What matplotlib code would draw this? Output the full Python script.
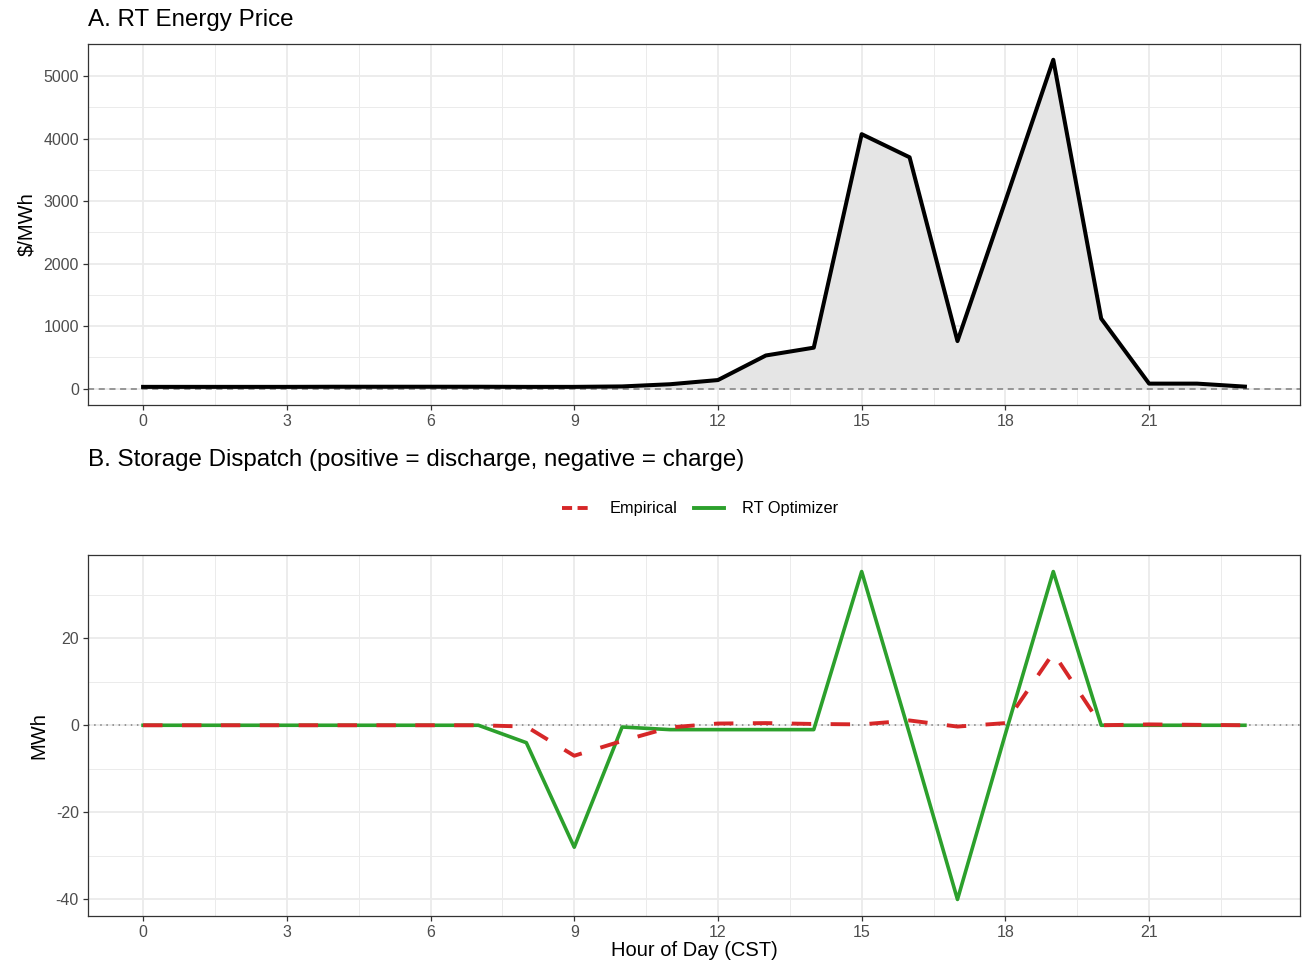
import matplotlib
matplotlib.use("Agg")
import matplotlib.pyplot as plt
from matplotlib.lines import Line2D
import numpy as np

plt.rcParams['font.family'] = ['Liberation Sans', 'DejaVu Sans']
plt.rcParams['axes.unicode_minus'] = False

hours = list(range(24))
price = [28, 28, 28, 28, 30, 30, 30, 30, 28, 28, 35, 70, 137, 530, 655,
         4070, 3700, 760, 3000, 5260, 1120, 80, 80, 32]
empirical = [0, 0, 0, 0, 0, 0, 0, 0, -0.3, -7, -3.6, -0.5, 0.4, 0.5, 0.3,
             0.2, 1.1, -0.3, 0.5, 16.6, 0, 0.2, 0.1, 0]
optimizer = [0, 0, 0, 0, 0, 0, 0, 0, -4, -28, -0.4, -1, -1, -1, -1,
             35.3, -2, -40, -2, 35.3, 0, 0, 0, 0]
x_ticks = [0, 3, 6, 9, 12, 15, 18, 21]
price_ticks = [0, 1000, 2000, 3000, 4000, 5000]
dispatch_ticks = [-40, -20, 0, 20]
series_names = ["Empirical", "RT Optimizer"]
series_colors = ["#d62728", "#2ca02c"]

W, H = 1306, 964
fig = plt.figure(figsize=(W / 100, H / 100), dpi=100)

def frac(l, t, r, b):
    return [l / W, 1 - b / H, (r - l) / W, (b - t) / H]

ax1 = fig.add_axes(frac(88, 44, 1300, 405))
ax2 = fig.add_axes(frac(88, 555, 1300, 916))

grid_c = "#ebebeb"

def style(ax, yticks, yminor, ylim):
    ax.set_xlim(-1.15, 24.15)
    ax.set_ylim(*ylim)
    ax.set_xticks(x_ticks)
    ax.set_xticks([1.5, 4.5, 7.5, 10.5, 13.5, 16.5, 19.5, 22.5], minor=True)
    ax.set_yticks(yticks)
    ax.set_yticks(yminor, minor=True)
    ax.grid(True, which='major', color=grid_c, lw=1.3, zorder=0)
    ax.grid(True, which='minor', color=grid_c, lw=0.7, zorder=0)
    ax.set_axisbelow(True)
    for s in ax.spines.values():
        s.set_color("#333333")
        s.set_linewidth(0.9)
    ax.tick_params(which='major', length=3.5, width=0.9, color="#333333",
                   labelcolor="#4d4d4d", labelsize=11.5, pad=3)
    ax.tick_params(which='minor', length=0)

style(ax1, price_ticks, [500, 1500, 2500, 3500, 4500], (-262, 5512))
style(ax2, dispatch_ticks, [-30, -10, 10, 30], (-43.8, 39.1))

# Panel A
ax1.fill_between(hours, 0, price, color="#e5e5e5", lw=0, zorder=1)
ax1.axhline(0, color="#7f7f7f", ls=(0, (4, 3)), lw=1.1, zorder=2)
ax1.plot(hours, price, color="black", lw=2.9, zorder=3, solid_joinstyle='round')
ax1.set_ylabel("$/MWh".replace("$", r"\$"), fontsize=14.5, labelpad=5)

# Panel B
ax2.axhline(0, color="#7f7f7f", ls=(0, (1, 3)), lw=1.1, zorder=2)
ax2.plot(hours, optimizer, color=series_colors[1], lw=2.6, zorder=3,
         solid_joinstyle='round')
ax2.plot(hours, empirical, color=series_colors[0], lw=2.8, ls=(0, (5, 5)), zorder=4)
ax2.set_ylabel("MWh", fontsize=14.5, labelpad=5)
ax2.set_xlabel("Hour of Day (CST)", fontsize=14.5, labelpad=1)

fig.text(88 / W, 1 - 20 / H, "A. RT Energy Price", fontsize=17.4,
         ha='left', va='center')
fig.text(88 / W, 1 - 460 / H, "B. Storage Dispatch (positive = discharge, negative = charge)",
         fontsize=17.4, ha='left', va='center')

handles = [Line2D([], [], color=series_colors[0], lw=2.8, ls=(0, (2.6, 1.4))),
           Line2D([], [], color=series_colors[1], lw=2.8)]
fig.legend(handles, series_names, loc='center', bbox_to_anchor=(700 / W, 1 - 509 / H),
           ncol=2, frameon=False, fontsize=11.8, handlelength=1.8, columnspacing=1.0,
           handletextpad=1.1)

fig.savefig("out.png", dpi=100)
